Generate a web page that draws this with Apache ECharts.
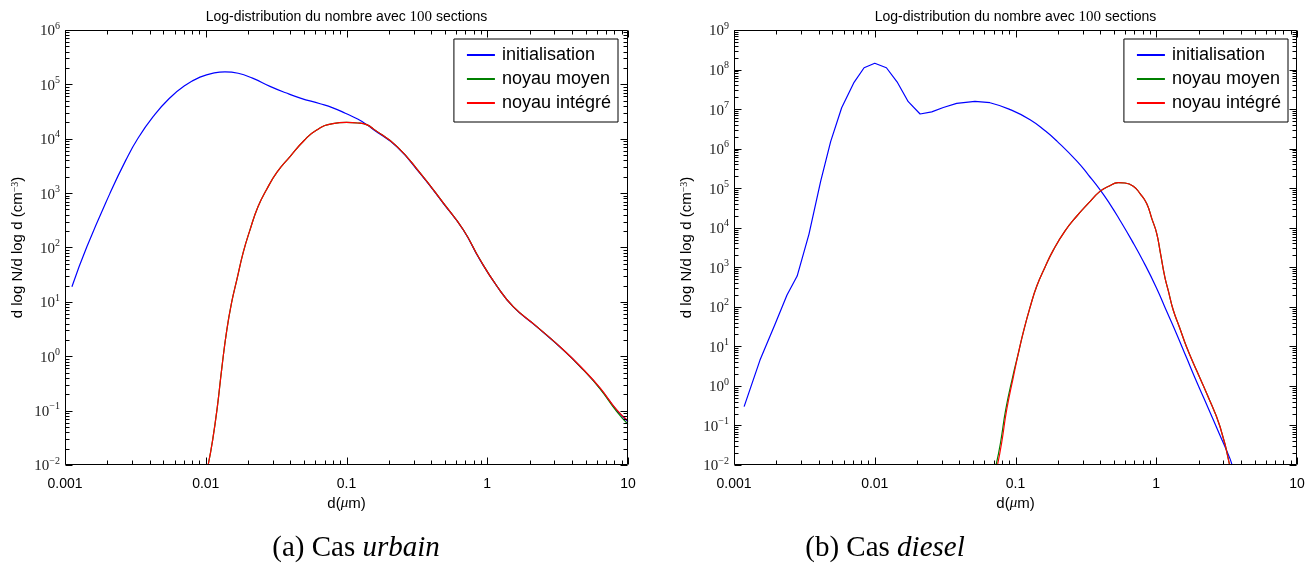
<!DOCTYPE html>
<html>
<head>
<meta charset="utf-8">
<script src="https://cdn.jsdelivr.net/npm/echarts@6/dist/echarts.min.js"></script>
<style>
  html, body { margin: 0; padding: 0; background: #fff; }
  #chart { width: 1312px; height: 568px; }
</style>
</head>
<body>
<div id="chart"></div>
<script>
// ---------- data ----------
const seriesNames = ['initialisation', 'noyau moyen', 'noyau intégré'];
const xTickLabels = ['0.001', '0.01', '0.1', '1', '10'];
const captions = [['(a) Cas ', 'urbain'], ['(b) Cas ', 'diesel']];

// Cas urbain : diamètre (µm) et dN/dlog d (cm^-3)
const urbainInitD = [0.00112, 0.00143, 0.00209, 0.0027, 0.0033, 0.00424, 0.0055, 0.0071, 0.0091, 0.0115, 0.0137, 0.017, 0.0215, 0.0286, 0.037, 0.047, 0.065, 0.08, 0.098, 0.12, 0.14, 0.155, 0.228, 0.333, 0.487, 0.676, 0.888, 1.17, 1.53, 2.24, 3.47, 4.82, 6.33, 8.3, 10];
const urbainInitN = [19, 103, 1000, 4000, 10200, 25700, 55000, 95000, 136000, 163000, 170000, 160000, 130000, 92000, 70000, 56000, 44000, 37000, 29500, 23000, 18000, 14800, 7100, 2300, 650, 210, 59, 19.5, 8.1, 3.5, 1.3, 0.56, 0.257, 0.102, 0.062];

const urbainMoyenD = [0.0104, 0.0112, 0.0121, 0.013, 0.0141, 0.0153, 0.0166, 0.0185, 0.0206, 0.0235, 0.027, 0.032, 0.0397, 0.05, 0.0614, 0.08, 0.1, 0.12, 0.14, 0.155, 0.228, 0.333, 0.487, 0.676, 0.888, 1.17, 1.53, 2.24, 3.47, 4.82, 6.33, 8.3, 10];
const urbainMoyenN = [0.01, 0.029, 0.12, 0.6, 3.0, 10, 25, 83, 209, 560, 1150, 2400, 4700, 9300, 14500, 19000, 20000, 19500, 18000, 15200, 7250, 2350, 660, 212, 60, 19.6, 8.2, 3.55, 1.31, 0.56, 0.252, 0.097, 0.056];

const urbainIntegreD = [0.0104, 0.0112, 0.0121, 0.013, 0.0141, 0.0153, 0.0166, 0.0185, 0.0206, 0.0235, 0.027, 0.032, 0.0397, 0.05, 0.0614, 0.08, 0.1, 0.12, 0.14, 0.155, 0.228, 0.333, 0.487, 0.676, 0.888, 1.17, 1.53, 2.24, 3.47, 4.82, 6.33, 8.3, 10];
const urbainIntegreN = [0.01, 0.029, 0.12, 0.6, 3.0, 10, 25, 83, 209, 560, 1150, 2400, 4700, 9300, 14500, 19000, 20000, 19500, 18000, 15200, 7250, 2350, 660, 212, 60, 19.6, 8.2, 3.55, 1.32, 0.57, 0.262, 0.104, 0.065];

// Cas diesel
const dieselInitD = [0.00118, 0.00153, 0.00195, 0.00238, 0.00281, 0.00341, 0.00413, 0.00486, 0.00582, 0.00713, 0.0084, 0.01, 0.0121, 0.0144, 0.0173, 0.021, 0.0254, 0.0307, 0.0382, 0.0515, 0.0659, 0.09, 0.127, 0.165, 0.197, 0.272, 0.33, 0.398, 0.47, 0.552, 0.67, 0.81, 1.0, 1.19, 1.4, 1.64, 1.95, 2.28, 2.8, 3.34, 3.45];
const dieselInitN = [0.3, 4.5, 35, 200, 600, 6900, 1.5e5, 1.5e6, 1.08e7, 4.75e7, 1.11e8, 1.44e8, 1.11e8, 4.9e7, 1.54e7, 7.5e6, 8.5e6, 1.1e7, 1.4e7, 1.57e7, 1.45e7, 1.0e7, 5.4e6, 2.7e6, 1.55e6, 4.9e5, 2.15e5, 9.2e4, 3.9e4, 1.55e4, 4800, 1400, 310, 75, 20, 5.2, 1.2, 0.34, 0.063, 0.0145, 0.01];
// below this diameter the initial diesel curve is drawn section by section (straight segments)
const dieselInitSmoothFrom = 0.0659;

const dieselMoyenD = [0.0728, 0.0782, 0.0852, 0.0955, 0.105, 0.114, 0.127, 0.1415, 0.162, 0.186, 0.225, 0.272, 0.33, 0.398, 0.46, 0.537, 0.6, 0.687, 0.77, 0.855, 0.93, 1.006, 1.07, 1.15, 1.22, 1.32, 1.46, 1.64, 1.95, 2.28, 2.84, 3.32];
const dieselMoyenN = [0.01, 0.036, 0.25, 1.7, 6.9, 24, 98, 330, 1000, 2750, 8300, 19500, 41700, 83000, 112000, 138000, 135000, 112000, 72000, 41000, 17000, 7300, 2300, 575, 250, 83, 31, 9.8, 2.3, 0.65, 0.093, 0.01];

const dieselIntegreD = [0.0745, 0.0797, 0.0866, 0.0966, 0.105, 0.114, 0.127, 0.1415, 0.162, 0.186, 0.225, 0.272, 0.33, 0.398, 0.46, 0.537, 0.6, 0.687, 0.77, 0.855, 0.93, 1.006, 1.07, 1.15, 1.22, 1.32, 1.46, 1.64, 1.95, 2.28, 2.84, 3.32];
const dieselIntegreN = [0.01, 0.036, 0.25, 1.7, 6.9, 24, 98, 330, 1000, 2750, 8300, 19500, 41700, 83000, 112000, 138000, 135000, 112000, 72000, 41000, 17000, 7300, 2300, 575, 250, 83, 31, 9.8, 2.3, 0.65, 0.093, 0.01];

// ---------- style ----------
const SANS = "'Liberation Sans', Arial, Helvetica, sans-serif";
const SERIF = "'Liberation Serif', 'Times New Roman', serif";
const COLORS = ['#0000ff', '#008000', '#ff0000'];
const GRIDS = [
  { left: 65, top: 30, width: 563, height: 435 },
  { left: 734, top: 30, width: 563, height: 435 }
];
const Y_RANGES = [[0.01, 1e6], [0.01, 1e9]];
const X_RANGE = [0.001, 10];
const SMOOTH = 0.5;

const zip = (xs, ys) => xs.map((x, i) => [x, ys[i]]);

const dieselInit = zip(dieselInitD, dieselInitN);
const panels = [
  {
    init: [{ data: zip(urbainInitD, urbainInitN), smooth: SMOOTH }],
    moyen: zip(urbainMoyenD, urbainMoyenN),
    integre: zip(urbainIntegreD, urbainIntegreN)
  },
  {
    init: [
      { data: dieselInit.filter(p => p[0] <= dieselInitSmoothFrom), smooth: false },
      { data: dieselInit.filter(p => p[0] >= dieselInitSmoothFrom), smooth: SMOOTH }
    ],
    moyen: zip(dieselMoyenD, dieselMoyenN),
    integre: zip(dieselIntegreD, dieselIntegreN)
  }
];

// Tick marks on the four sides of each frame (major on decades, minor on 2..9)
function tickData(xr, yr) {
  const data = [[xr[0], yr[0], 4]];
  const push = (lo, hi, make) => {
    for (let e = Math.round(Math.log10(lo)); e <= Math.round(Math.log10(hi)); e++) {
      for (let m = 1; m <= 9; m++) {
        const v = m * Math.pow(10, e);
        if (v > hi * 1.0001) break;
        make(v, m === 1);
      }
    }
  };
  push(xr[0], xr[1], (v, major) => data.push([v, yr[0], major ? 0 : 1]));
  push(yr[0], yr[1], (v, major) => data.push([xr[0], v, major ? 2 : 3]));
  return data;
}

function renderTick(params, api) {
  const cs = params.coordSys;
  const kind = api.value(2);
  const L = Math.round(cs.x) + 0.5, T = Math.round(cs.y) + 0.5;
  const R = Math.round(cs.x + cs.width) - 0.5, B = Math.round(cs.y + cs.height) - 0.5;
  const st = { stroke: '#000', lineWidth: 1 };
  const seg = (x1, y1, x2, y2) => ({ type: 'line', shape: { x1, y1, x2, y2 }, style: st });
  if (kind === 4) {
    return { type: 'rect', shape: { x: L, y: T, width: R - L, height: B - T }, style: { stroke: '#000', fill: 'none', lineWidth: 1 } };
  }
  const p = api.coord([api.value(0), api.value(1)]);
  const len = (kind === 0 || kind === 2) ? 7 : 4;
  if (kind < 2) {
    const x = Math.round(p[0]) + 0.5;
    return { type: 'group', children: [seg(x, B, x, B - len), seg(x, T, x, T + len)] };
  }
  const y = Math.round(p[1]) + 0.5;
  return { type: 'group', children: [seg(L, y, L + len, y), seg(R, y, R - len, y)] };
}

const xAxes = GRIDS.map((g, i) => ({
  type: 'log', logBase: 10, gridIndex: i,
  min: X_RANGE[0], max: X_RANGE[1], interval: 1,
  axisLine: { show: false }, axisTick: { show: false }, splitLine: { show: false },
  axisLabel: {
    margin: 12, fontFamily: SANS, fontSize: 14, color: '#000',
    formatter: v => xTickLabels[Math.round(Math.log10(v)) + 3]
  },
  name: '{t|d(}{m|μ}{t|m)}', nameLocation: 'middle', nameGap: 30,
  nameTextStyle: {
    rich: {
      t: { fontFamily: SANS, fontSize: 15, color: '#000' },
      m: { fontFamily: SERIF, fontStyle: 'italic', fontSize: 15, color: '#000' }
    }
  }
}));

const yAxes = GRIDS.map((g, i) => ({
  type: 'log', logBase: 10, gridIndex: i,
  min: Y_RANGES[i][0], max: Y_RANGES[i][1], interval: 1,
  axisLine: { show: false }, axisTick: { show: false }, splitLine: { show: false },
  axisLabel: {
    margin: 5,
    formatter: v => {
      const e = Math.round(Math.log10(v));
      return '{b|10}{s|' + (e < 0 ? '\u2212' + (-e) : e) + '}';
    },
    rich: {
      b: { fontFamily: SERIF, fontSize: 15, lineHeight: 18, color: '#222', verticalAlign: 'bottom' },
      s: { fontFamily: SERIF, fontSize: 10, lineHeight: 10, color: '#222', verticalAlign: 'top' }
    }
  },
  name: 'd log N/d log d (cm{s|\u22123})', nameLocation: 'middle', nameRotate: 90, nameGap: 40,
  nameTextStyle: {
    fontFamily: SANS, fontSize: 15, color: '#000',
    rich: { s: { fontFamily: SERIF, fontSize: 10, color: '#000', verticalAlign: 'top' } }
  }
}));

const lineSeries = (name, k, i, data, smooth) => ({
  type: 'line', name, xAxisIndex: i, yAxisIndex: i,
  data, showSymbol: false, symbol: 'none', clip: true, smooth,
  lineStyle: { width: 1.2, color: COLORS[k] },
  itemStyle: { color: COLORS[k] },
  emphasis: { disabled: true }, z: 2 + k
});

const series = [];
panels.forEach((p, i) => {
  p.init.forEach(part => series.push(lineSeries(seriesNames[0], 0, i, part.data, part.smooth)));
  series.push(lineSeries(seriesNames[1], 1, i, p.moyen, SMOOTH));
  series.push(lineSeries(seriesNames[2], 2, i, p.integre, SMOOTH));
  series.push({
    type: 'custom', xAxisIndex: i, yAxisIndex: i, silent: true, clip: false, z: 10,
    data: tickData(X_RANGE, Y_RANGES[i]), renderItem: renderTick,
    encode: { x: 0, y: 1 }
  });
});

const legends = [694, 24].map(r => ({
  right: r, top: 39, orient: 'vertical',
  data: seriesNames, selectedMode: false,
  icon: 'rect', itemWidth: 28, itemHeight: 2, itemGap: 6,
  padding: [7, 7, 10, 13],
  backgroundColor: '#fff', borderColor: '#000', borderWidth: 1, borderRadius: 0,
  textStyle: { fontFamily: SANS, fontSize: 18, lineHeight: 18, color: '#000', padding: [0, 0, 0, 2] }
}));

const graphics = [];
GRIDS.forEach((g, i) => {
  graphics.push({
    type: 'text', x: g.left + g.width / 2, y: 17,
    style: {
      text: 'Log-distribution du nombre avec {n|100} sections',
      fontFamily: SANS, fontSize: 14, fill: '#000',
      rich: { n: { fontFamily: SERIF, fontSize: 15, fill: '#000' } },
      align: 'center', verticalAlign: 'middle'
    }
  });
});
[356, 885].forEach((cx, i) => {
  graphics.push({
    type: 'text', x: cx, y: 548,
    style: {
      text: '{r|' + captions[i][0] + '}{i|' + captions[i][1] + '}',
      rich: {
        r: { fontFamily: SERIF, fontSize: 29, fill: '#000' },
        i: { fontFamily: SERIF, fontSize: 29, fontStyle: 'italic', fill: '#000' }
      },
      align: 'center', verticalAlign: 'middle'
    }
  });
});

const chart = echarts.init(document.getElementById('chart'), null, { renderer: 'canvas' });
chart.setOption({
  animation: false,
  backgroundColor: '#fff',
  grid: GRIDS.map(g => Object.assign({ show: false }, g)),
  xAxis: xAxes,
  yAxis: yAxes,
  legend: legends,
  series,
  graphic: graphics
});
</script>
</body>
</html>
